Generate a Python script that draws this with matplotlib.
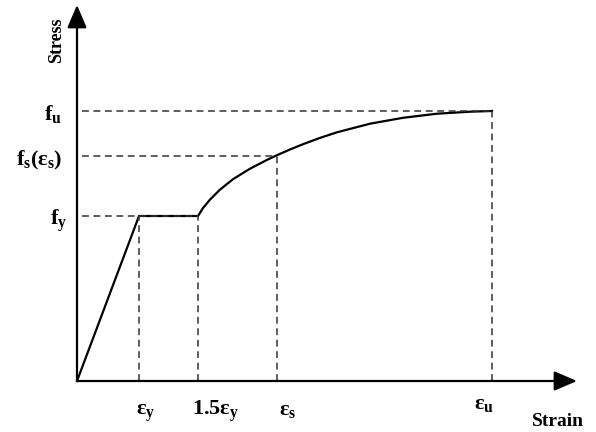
import numpy as np
import matplotlib
matplotlib.use("Agg")
import matplotlib.pyplot as plt

plt.rcParams["font.family"] = ["Liberation Serif", "DejaVu Serif"]
plt.rcParams["font.weight"] = "bold"
plt.rcParams["mathtext.fontset"] = "custom"
plt.rcParams["mathtext.rm"] = "Liberation Serif"
plt.rcParams["mathtext.bf"] = "Liberation Serif:bold"
plt.rcParams["mathtext.it"] = "Liberation Serif:italic"

# schematic stress-strain curve (arbitrary units)
eps_y = 62
eps_sh = 121
eps_s = 200
eps_u = 415
f_y = 165
f_s = 225.5
f_u = 270

# strain hardening branch, read point by point
harden_strain = [121, 126, 133, 143, 156, 173, 190, 200, 213, 226, 243, 260,
                 293, 326, 360, 393, 415]
harden_stress = [165, 173, 181.4, 191.4, 201.8, 212.3, 221.1, 225.8, 231.5, 236.8,
                 243.1, 248.7, 257.3, 263.2, 267.3, 269.3, 270]

strain_ticks = [eps_y, eps_sh, eps_s, eps_u]
strain_labels = [r"$\mathrm{ε}_\mathbf{y}$", r"$\mathbf{1.5}\mathrm{ε}_\mathbf{y}$",
                 r"$\mathrm{ε}_\mathbf{s}$", r"$\mathrm{ε}_\mathbf{u}$"]
stress_ticks = [f_u, f_s, f_y]
stress_labels = [r"$\mathbf{f_u}$", r"$\mathbf{f_s(}\mathrm{ε}_\mathbf{s}\mathbf{)}$",
                 r"$\mathbf{f_y}$"]

fig = plt.figure(figsize=(5.96, 4.32), dpi=100)
ax = fig.add_axes([0, 0, 1, 1])
ax.set_xlim(-77, 519)
ax.set_ylim(-51, 381)
ax.axis("off")

# axes with arrow heads
arr = dict(arrowstyle="-|>,head_length=0.7,head_width=0.3", lw=1.6, color="black",
           mutation_scale=20, shrinkA=0, shrinkB=0)
ax.annotate("", xy=(500, 0), xytext=(0, 0), arrowprops=arr)
ax.annotate("", xy=(0, 376), xytext=(0, 0), arrowprops=arr)

# curve
strain = [0, eps_y, eps_sh] + harden_strain[1:]
stress = [0, f_y, f_y] + harden_stress[1:]
ax.plot(strain, stress, color="black", lw=1.6, solid_joinstyle="round")

# dashed guide lines
dash = dict(color="#333333", lw=1.1, dashes=(4.5, 3))
for x, y in [(eps_y, f_y), (eps_sh, f_y), (eps_s, f_s), (eps_u, f_u)]:
    ax.plot([x, x], [0, y], **dash)
for x, y in [(eps_sh, f_y), (eps_s, f_s), (eps_u, f_u)]:
    ax.plot([5, x], [y, y], **dash)

# tick labels
x_shift = [7, 18, 11, -8]
y_base = [-34, -34, -34, -28]
for x, lab, dx, yb in zip(strain_ticks, strain_labels, x_shift, y_base):
    ax.text(x + dx, yb, lab, ha="center", va="baseline", fontsize=16)

x_pos = [-15, -15, -10]
y_shift = [-3, -5, -5]
for y, lab, xp, dy in zip(stress_ticks, stress_labels, x_pos, y_shift):
    ax.text(xp, y + dy, lab, ha="right", va="center", fontsize=16)

ax.text(-20, 341, "Stress", rotation=90, ha="center", va="center",
        fontsize=13, fontweight="bold")
ax.text(455, -45, "Strain", ha="left", va="baseline", fontsize=14, fontweight="bold")

fig.savefig("out.png", dpi=100)
